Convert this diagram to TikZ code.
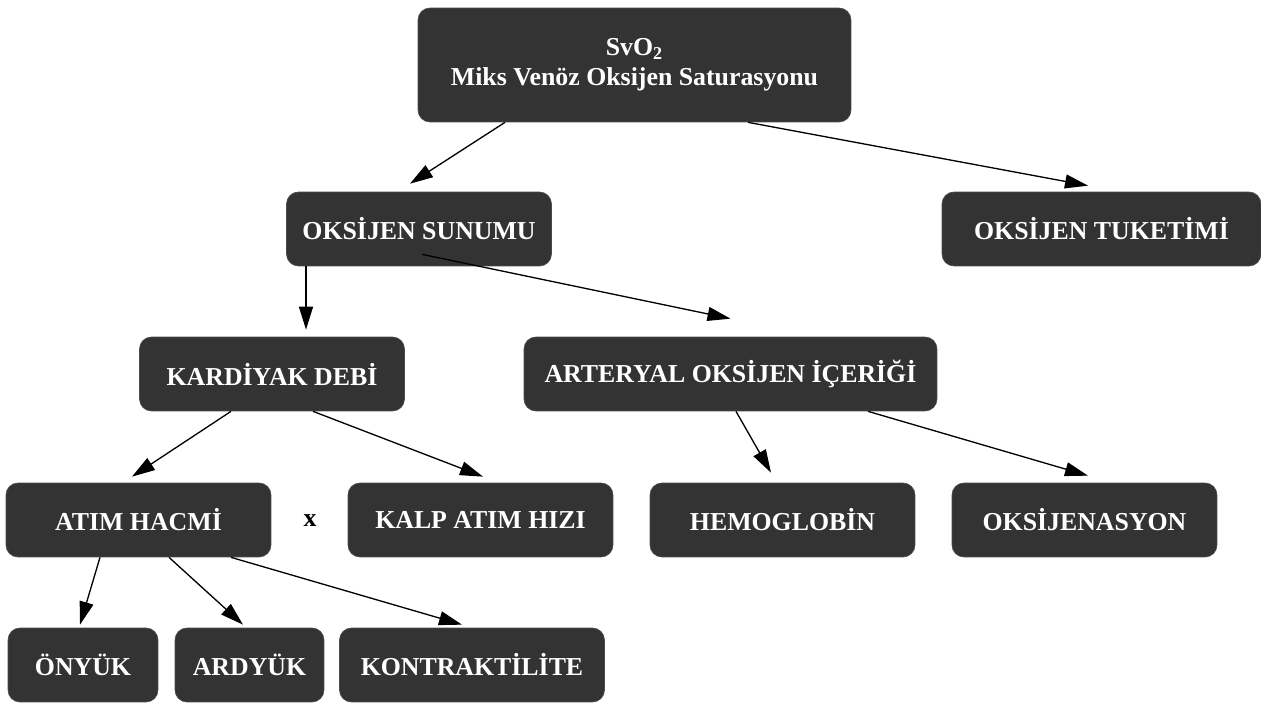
\documentclass[tikz,border=0pt]{standalone}
\usepackage{fontspec}
\setmainfont{Liberation Serif}
\usetikzlibrary{arrows.meta,calc}
\definecolor{svobox}{HTML}{333333}
\definecolor{svoedge}{HTML}{4A4A4A}
\tikzset{
  box/.style={rounded corners=0.24cm, draw=svoedge, thin, fill=svobox, text=white, align=center, inner sep=0pt, minimum width=5.3cm, minimum height=1.48cm, font=\fontsize{14.7}{17}\selectfont\bfseries},
  smallbox/.style={box, minimum width=3.0cm},
  arrow/.style={-{Triangle[length=4.6mm,width=2.8mm]}, line width=0.75pt, draw=black}
}
\begin{document}
\begin{tikzpicture}[x=0.02cm, y=-0.02cm]
  \useasboundingbox (0,0) rectangle (1261,706);
  \node[box, minimum width=8.66cm, minimum height=2.28cm] (svo) at (634.5,65) {SvO\textsubscript{2}\\Miks Venöz Oksijen Saturasyonu};
  \node[box] (sunumu) at (419,229) {OKSİJEN SUNUMU};
  \node[box, minimum width=6.38cm] (tuketim) at (1101.5,229) {OKSİJEN TUKETİMİ};
  \node[box] (kardiyak) at (272,374) {KARDİYAK DEBİ};
  \node[box, minimum width=8.26cm] (arteryal) at (730.5,374) {ARTERYAL OKSİJEN İÇERİĞİ};
  \node[box] (atim) at (138.5,520) {ATIM HACMİ};
  \node[font=\fontsize{14.7}{17}\selectfont\bfseries] (carpi) at (310,521) {x};
  \node[box] (kalp) at (480.5,520) {KALP ATIM HIZI};
  \node[box] (hemo) at (782.5,520) {HEMOGLOBİN};
  \node[box] (oksjn) at (1084.5,520) {OKSİJENASYON};
  \node[smallbox] (onyuk) at (83,665) {ÖNYÜK};
  \node[smallbox, minimum width=2.98cm] (ardyuk) at (249.5,665) {ARDYÜK};
  \node[box] (kontra) at (472,665) {KONTRAKTİLİTE};

  \draw[arrow] ($(svo.south)+(-129.5,0)$) -- ($(sunumu.north)+(-9,-8)$);
  \draw[arrow] ($(svo.south)+(113.5,0)$) -- ($(tuketim.north)+(-13.5,-6)$);
  \draw[arrow] ($(sunumu.south)+(-113,0)$) -- ($(kardiyak.north)+(34,-7)$);
  \draw[arrow] ($(sunumu.south)+(3,-12)$) -- ($(arteryal.north)+(0,-18)$);
  \draw[arrow] ($(kardiyak.south)+(-41,0)$) -- ($(atim.north)+(-6.5,-6)$);
  \draw[arrow] ($(kardiyak.south)+(41,0)$) -- ($(kalp.north)+(2.5,-6)$);
  \draw[arrow] ($(arteryal.south)+(5.5,0)$) -- ($(hemo.north)+(-11.5,-10)$);
  \draw[arrow] ($(arteryal.south)+(137.5,0)$) -- ($(oksjn.north)+(3.5,-7)$);
  \draw[arrow] ($(atim.south)+(-38.5,0)$) -- ($(onyuk.north)+(-3,-3)$);
  \draw[arrow] ($(atim.south)+(30.5,0)$) -- ($(ardyuk.north)+(-6.5,-3)$);
  \draw[arrow] ($(atim.south)+(92.5,0)$) -- ($(kontra.north)+(-10,-3)$);
\end{tikzpicture}
\end{document}
